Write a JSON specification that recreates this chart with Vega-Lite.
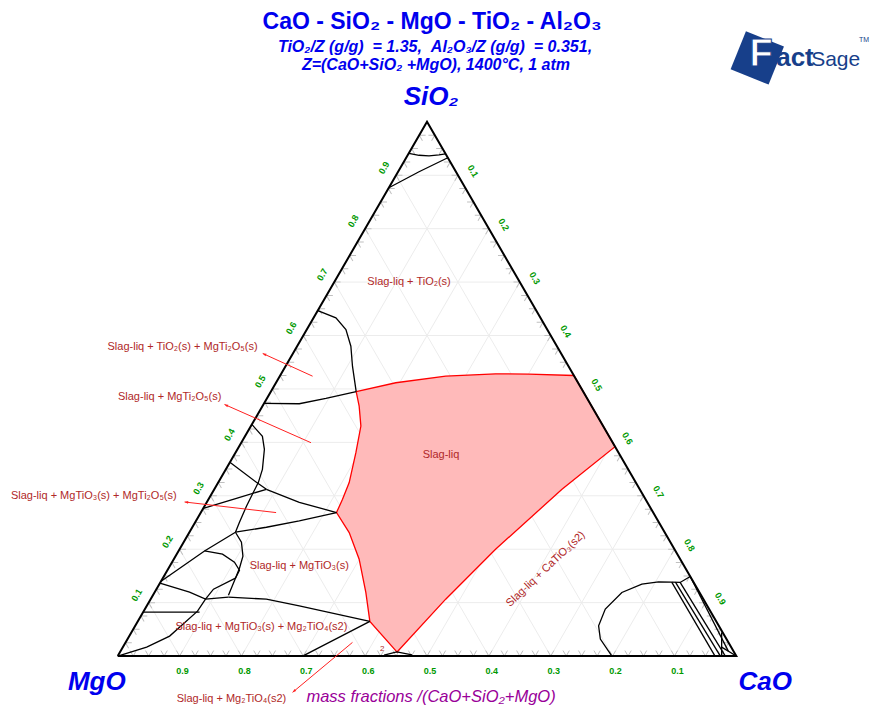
{
"$schema":"https://vega.github.io/schema/vega-lite/v6.json",
"width":870,"height":706,"padding":0,
"autosize":{"type":"fit","contains":"padding"},
"config":{"view":{"stroke":null},"font":"Liberation Sans"},
"datasets":{
"grid":[
{"x":0.05,"y":0.1,"x2":0.95,"y2":0.1},{"x":0.1,"y":0.2,"x2":0.9,"y2":0.2},{"x":0.15,"y":0.3,"x2":0.85,"y2":0.3},{"x":0.2,"y":0.4,"x2":0.8,"y2":0.4},{"x":0.25,"y":0.5,"x2":0.75,"y2":0.5},{"x":0.3,"y":0.6,"x2":0.7,"y2":0.6},{"x":0.35,"y":0.7,"x2":0.65,"y2":0.7},{"x":0.4,"y":0.8,"x2":0.6,"y2":0.8},{"x":0.45,"y":0.9,"x2":0.55,"y2":0.9},
{"x":0.1,"y":0,"x2":0.55,"y2":0.9},{"x":0.2,"y":0,"x2":0.6,"y2":0.8},{"x":0.3,"y":0,"x2":0.65,"y2":0.7},{"x":0.4,"y":0,"x2":0.7,"y2":0.6},{"x":0.5,"y":0,"x2":0.75,"y2":0.5},{"x":0.6,"y":0,"x2":0.8,"y2":0.4},{"x":0.7,"y":0,"x2":0.85,"y2":0.3},{"x":0.8,"y":0,"x2":0.9,"y2":0.2},{"x":0.9,"y":0,"x2":0.95,"y2":0.1},
{"x":0.1,"y":0,"x2":0.05,"y2":0.1},{"x":0.2,"y":0,"x2":0.1,"y2":0.2},{"x":0.3,"y":0,"x2":0.15,"y2":0.3},{"x":0.4,"y":0,"x2":0.2,"y2":0.4},{"x":0.5,"y":0,"x2":0.25,"y2":0.5},{"x":0.6,"y":0,"x2":0.3,"y2":0.6},{"x":0.7,"y":0,"x2":0.35,"y2":0.7},{"x":0.8,"y":0,"x2":0.4,"y2":0.8},{"x":0.9,"y":0,"x2":0.45,"y2":0.9}
],
"tb":[{"x":0.025,"y":0},{"x":0.05,"y":0},{"x":0.075,"y":0},{"x":0.1,"y":0},{"x":0.125,"y":0},{"x":0.15,"y":0},{"x":0.175,"y":0},{"x":0.2,"y":0},{"x":0.225,"y":0},{"x":0.25,"y":0},{"x":0.275,"y":0},{"x":0.3,"y":0},{"x":0.325,"y":0},{"x":0.35,"y":0},{"x":0.375,"y":0},{"x":0.4,"y":0},{"x":0.425,"y":0},{"x":0.45,"y":0},{"x":0.475,"y":0},{"x":0.5,"y":0},{"x":0.525,"y":0},{"x":0.55,"y":0},{"x":0.575,"y":0},{"x":0.6,"y":0},{"x":0.625,"y":0},{"x":0.65,"y":0},{"x":0.675,"y":0},{"x":0.7,"y":0},{"x":0.725,"y":0},{"x":0.75,"y":0},{"x":0.775,"y":0},{"x":0.8,"y":0},{"x":0.825,"y":0},{"x":0.85,"y":0},{"x":0.875,"y":0},{"x":0.9,"y":0},{"x":0.925,"y":0},{"x":0.95,"y":0},{"x":0.975,"y":0}],
"tl":[{"x":0.0125,"y":0.025},{"x":0.025,"y":0.05},{"x":0.0375,"y":0.075},{"x":0.05,"y":0.1},{"x":0.0625,"y":0.125},{"x":0.075,"y":0.15},{"x":0.0875,"y":0.175},{"x":0.1,"y":0.2},{"x":0.1125,"y":0.225},{"x":0.125,"y":0.25},{"x":0.1375,"y":0.275},{"x":0.15,"y":0.3},{"x":0.1625,"y":0.325},{"x":0.175,"y":0.35},{"x":0.1875,"y":0.375},{"x":0.2,"y":0.4},{"x":0.2125,"y":0.425},{"x":0.225,"y":0.45},{"x":0.2375,"y":0.475},{"x":0.25,"y":0.5},{"x":0.2625,"y":0.525},{"x":0.275,"y":0.55},{"x":0.2875,"y":0.575},{"x":0.3,"y":0.6},{"x":0.3125,"y":0.625},{"x":0.325,"y":0.65},{"x":0.3375,"y":0.675},{"x":0.35,"y":0.7},{"x":0.3625,"y":0.725},{"x":0.375,"y":0.75},{"x":0.3875,"y":0.775},{"x":0.4,"y":0.8},{"x":0.4125,"y":0.825},{"x":0.425,"y":0.85},{"x":0.4375,"y":0.875},{"x":0.45,"y":0.9},{"x":0.4625,"y":0.925},{"x":0.475,"y":0.95},{"x":0.4875,"y":0.975}],
"tr":[{"x":0.9875,"y":0.025},{"x":0.975,"y":0.05},{"x":0.9625,"y":0.075},{"x":0.95,"y":0.1},{"x":0.9375,"y":0.125},{"x":0.925,"y":0.15},{"x":0.9125,"y":0.175},{"x":0.9,"y":0.2},{"x":0.8875,"y":0.225},{"x":0.875,"y":0.25},{"x":0.8625,"y":0.275},{"x":0.85,"y":0.3},{"x":0.8375,"y":0.325},{"x":0.825,"y":0.35},{"x":0.8125,"y":0.375},{"x":0.8,"y":0.4},{"x":0.7875,"y":0.425},{"x":0.775,"y":0.45},{"x":0.7625,"y":0.475},{"x":0.75,"y":0.5},{"x":0.7375,"y":0.525},{"x":0.725,"y":0.55},{"x":0.7125,"y":0.575},{"x":0.7,"y":0.6},{"x":0.6875,"y":0.625},{"x":0.675,"y":0.65},{"x":0.6625,"y":0.675},{"x":0.65,"y":0.7},{"x":0.6375,"y":0.725},{"x":0.625,"y":0.75},{"x":0.6125,"y":0.775},{"x":0.6,"y":0.8},{"x":0.5875,"y":0.825},{"x":0.575,"y":0.85},{"x":0.5625,"y":0.875},{"x":0.55,"y":0.9},{"x":0.5375,"y":0.925},{"x":0.525,"y":0.95},{"x":0.5125,"y":0.975}],
"liq":[
{"i":0,"x":0.3855,"y":0.4950},{"i":1,"x":0.4495,"y":0.5116},{"i":2,"x":0.5302,"y":0.5239},{"i":3,"x":0.6108,"y":0.5284},{"i":4,"x":0.6645,"y":0.5277},{"i":5,"x":0.7374,"y":0.5252},{"i":6,"x":0.8040,"y":0.3920},{"i":7,"x":0.7182,"y":0.3121},{"i":8,"x":0.6108,"y":0.2000},{"i":9,"x":0.5302,"y":0.1065},{"i":10,"x":0.4516,"y":0.0075},{"i":11,"x":0.4076,"y":0.0649},{"i":12,"x":0.4011,"y":0.1191},{"i":13,"x":0.3903,"y":0.1813},{"i":14,"x":0.3742,"y":0.2312},{"i":15,"x":0.3537,"y":0.2686},{"i":16,"x":0.3634,"y":0.2935},{"i":17,"x":0.3742,"y":0.3247},{"i":18,"x":0.3850,"y":0.3807},{"i":19,"x":0.3931,"y":0.4305},{"i":20,"x":0.3903,"y":0.4679},{"i":21,"x":0.3855,"y":0.4950}
],
"bl":[
{"s":"a","i":0,"x":0.4706,"y":0.9411},{"s":"a","i":1,"x":0.4871,"y":0.9374},{"s":"a","i":2,"x":0.5032,"y":0.9364},{"s":"a","i":3,"x":0.5194,"y":0.9383},{"s":"a","i":4,"x":0.5299,"y":0.9402},
{"s":"b","i":0,"x":0.5336,"y":0.9327},{"s":"b","i":1,"x":0.4871,"y":0.9065},{"s":"b","i":2,"x":0.4383,"y":0.8766},
{"s":"c","i":0,"x":0.3234,"y":0.6467},{"s":"c","i":1,"x":0.3527,"y":0.6331},{"s":"c","i":2,"x":0.3689,"y":0.6112},{"s":"c","i":3,"x":0.3769,"y":0.5800},{"s":"c","i":4,"x":0.3795,"y":0.5426},{"s":"c","i":5,"x":0.3855,"y":0.4950},
{"s":"d","i":0,"x":0.2364,"y":0.4729},{"s":"d","i":1,"x":0.2935,"y":0.4723},{"s":"d","i":2,"x":0.3366,"y":0.4822},{"s":"d","i":3,"x":0.3855,"y":0.4950},
{"s":"L1","i":0,"x":0.1813,"y":0.3626},{"s":"L1","i":1,"x":0.2242,"y":0.3252},{"s":"L1","i":2,"x":0.2403,"y":0.3121},
{"s":"L2","i":0,"x":0.2403,"y":0.3121},{"s":"L2","i":1,"x":0.2935,"y":0.2879},{"s":"L2","i":2,"x":0.3537,"y":0.2686},
{"s":"L3","i":0,"x":0.2403,"y":0.3121},{"s":"L3","i":1,"x":0.1919,"y":0.2953},{"s":"L3","i":2,"x":0.1383,"y":0.2766},
{"s":"L4","i":0,"x":0.2168,"y":0.4336},{"s":"L4","i":1,"x":0.2339,"y":0.4112},{"s":"L4","i":2,"x":0.2371,"y":0.3869},{"s":"L4","i":3,"x":0.2339,"y":0.3495},{"s":"L4","i":4,"x":0.2274,"y":0.3252},{"s":"L4","i":5,"x":0.2177,"y":0.3028},{"s":"L4","i":6,"x":0.2081,"y":0.2804},{"s":"L4","i":7,"x":0.1968,"y":0.2505},{"s":"L4","i":8,"x":0.1903,"y":0.2318},
{"s":"L5","i":0,"x":0.1903,"y":0.2318},{"s":"L5","i":1,"x":0.2403,"y":0.2411},{"s":"L5","i":2,"x":0.2935,"y":0.2529},{"s":"L5","i":3,"x":0.3537,"y":0.2686},
{"s":"L6","i":0,"x":0.1903,"y":0.2318},{"s":"L6","i":1,"x":0.1403,"y":0.1968},{"s":"L6","i":2,"x":0.0701,"y":0.1402},
{"s":"L7","i":0,"x":0.1403,"y":0.1968},{"s":"L7","i":1,"x":0.1694,"y":0.1907},{"s":"L7","i":2,"x":0.1887,"y":0.1757},{"s":"L7","i":3,"x":0.1968,"y":0.1607},{"s":"L7","i":4,"x":0.1903,"y":0.1458},
{"s":"L8","i":0,"x":0.1903,"y":0.2318},{"s":"L8","i":1,"x":0.2000,"y":0.2131},{"s":"L8","i":2,"x":0.2024,"y":0.1869},{"s":"L8","i":3,"x":0.1968,"y":0.1645},{"s":"L8","i":4,"x":0.1903,"y":0.1458},{"s":"L8","i":5,"x":0.1790,"y":0.1140},
{"s":"L9","i":0,"x":0.0682,"y":0.1364},{"s":"L9","i":1,"x":0.1161,"y":0.1196},{"s":"L9","i":2,"x":0.1419,"y":0.1065},{"s":"L9","i":3,"x":0.1790,"y":0.1103},
{"s":"L10","i":0,"x":0.1790,"y":0.1103},{"s":"L10","i":1,"x":0.2403,"y":0.1065},{"s":"L10","i":2,"x":0.2935,"y":0.0940},{"s":"L10","i":3,"x":0.4076,"y":0.0649},
{"s":"L11","i":0,"x":0.0411,"y":0.0822},{"s":"L11","i":1,"x":0.1323,"y":0.0822},
{"s":"L12","i":0,"x":0.0,"y":0.0},{"s":"L12","i":1,"x":0.0468,"y":0.0168},{"s":"L12","i":2,"x":0.0839,"y":0.0374},{"s":"L12","i":3,"x":0.1290,"y":0.0841},{"s":"L12","i":4,"x":0.1419,"y":0.1065},{"s":"L12","i":5,"x":0.1548,"y":0.1252},{"s":"L12","i":6,"x":0.1903,"y":0.1458},
{"s":"L13","i":0,"x":0.4076,"y":0.0649},{"s":"L13","i":1,"x":0.2989,"y":0.0},
{"s":"L14","i":0,"x":0.4306,"y":0.0019},{"s":"L14","i":1,"x":0.4511,"y":0.0080},{"s":"L14","i":2,"x":0.4758,"y":0.0024},
{"s":"Rc","i":0,"x":0.7989,"y":0.0},{"s":"Rc","i":1,"x":0.7802,"y":0.0318},{"s":"Rc","i":2,"x":0.7774,"y":0.0566},{"s":"Rc","i":3,"x":0.7882,"y":0.0879},{"s":"Rc","i":4,"x":0.8150,"y":0.1191},{"s":"Rc","i":5,"x":0.8473,"y":0.1346},{"s":"Rc","i":6,"x":0.8742,"y":0.1389},{"s":"Rc","i":7,"x":0.8956,"y":0.1383},{"s":"Rc","i":8,"x":0.9092,"y":0.1378},{"s":"Rc","i":9,"x":0.9255,"y":0.1490},
{"s":"R1","i":0,"x":0.8956,"y":0.1383},{"s":"R1","i":1,"x":0.9656,"y":0.0},
{"s":"R2","i":0,"x":0.9016,"y":0.1383},{"s":"R2","i":1,"x":0.9742,"y":0.0},
{"s":"R3","i":0,"x":0.9092,"y":0.1378},{"s":"R3","i":1,"x":0.9823,"y":0.0},
{"s":"R4","i":0,"x":0.9255,"y":0.1490},{"s":"R4","i":1,"x":0.9871,"y":0.0093},
{"s":"R5","i":0,"x":0.9763,"y":0.0443},{"s":"R5","i":1,"x":0.9763,"y":0.0},
{"s":"R6","i":0,"x":0.9763,"y":0.0168},{"s":"R6","i":1,"x":1.0,"y":0.0}
],
"tri":[{"i":0,"x":0,"y":0},{"i":1,"x":1,"y":0},{"i":2,"x":0.5,"y":1},{"i":3,"x":0,"y":0}],
"arr":[
{"s":"A1","i":0,"x":0.3150,"y":0.5239},{"s":"A1","i":1,"x":0.2344,"y":0.5664},
{"s":"A2","i":0,"x":0.3124,"y":0.3994},{"s":"A2","i":1,"x":0.1726,"y":0.4710},
{"s":"A3","i":0,"x":0.2560,"y":0.2686},{"s":"A3","i":1,"x":0.1081,"y":0.2884},
{"s":"A4","i":0,"x":0.3795,"y":0.0256},{"s":"A4","i":1,"x":0.2827,"y":-0.0679}
],
"heads":[{"s":"A1","x":0.2344,"y":0.5664},{"s":"A2","x":0.1726,"y":0.4710},{"s":"A3","x":0.1081,"y":0.2884},{"s":"A4","x":0.2827,"y":-0.0679}],
"regions":[
{"t":"Slag-liq + TiO₂(s)","x":0.4710,"y":0.7009},
{"t":"Slag-liq","x":0.5226,"y":0.3757},
{"t":"Slag-liq + TiO₂(s) + MgTi₂O₅(s)","x":0.1048,"y":0.5794},
{"t":"Slag-liq + MgTi₂O₅(s)","x":0.0839,"y":0.4841},
{"t":"Slag-liq + MgTiO₃(s) + MgTi₂O₅(s)","x":-0.0387,"y":0.2991},
{"t":"Slag-liq + MgTiO₃(s)","x":0.2935,"y":0.1682},
{"t":"Slag-liq + MgTiO₃(s) + Mg₂TiO₄(s2)","x":0.2323,"y":0.0542},
{"t":"Slag-liq + Mg₂TiO₄(s2)","x":0.1839,"y":-0.0804}
],
"rot":[{"t":"Slag-liq + CaTiO₃(s2)","x":0.6919,"y":0.1626}],
"two":[{"t":"2","x":0.4274,"y":0.0131}],
"lb":[{"t":"0.9","x":0.1048,"y":-0.028},{"t":"0.8","x":0.2048,"y":-0.028},{"t":"0.7","x":0.3048,"y":-0.028},{"t":"0.6","x":0.4048,"y":-0.028},{"t":"0.5","x":0.5048,"y":-0.028},{"t":"0.4","x":0.6048,"y":-0.028},{"t":"0.3","x":0.7048,"y":-0.028},{"t":"0.2","x":0.8048,"y":-0.028},{"t":"0.1","x":0.9048,"y":-0.028}],
"ll":[{"t":"0.9","x":0.4306,"y":0.914},{"t":"0.8","x":0.3806,"y":0.814},{"t":"0.7","x":0.3306,"y":0.714},{"t":"0.6","x":0.2806,"y":0.614},{"t":"0.5","x":0.2306,"y":0.514},{"t":"0.4","x":0.1806,"y":0.414},{"t":"0.3","x":0.1306,"y":0.314},{"t":"0.2","x":0.0806,"y":0.214},{"t":"0.1","x":0.0306,"y":0.114}],
"lr":[{"t":"0.1","x":0.5742,"y":0.9075},{"t":"0.2","x":0.6242,"y":0.8075},{"t":"0.3","x":0.6742,"y":0.7075},{"t":"0.4","x":0.7242,"y":0.6075},{"t":"0.5","x":0.7742,"y":0.5075},{"t":"0.6","x":0.8242,"y":0.4075},{"t":"0.7","x":0.8742,"y":0.3075},{"t":"0.8","x":0.9242,"y":0.2075},{"t":"0.9","x":0.9742,"y":0.1075}],
"title":[{"t":"CaO - SiO₂ - MgO - TiO₂ - Al₂O₃","x":0.5081,"y":1.1869}],
"sub":[{"t":"TiO₂/Z (g/g) \u00a0= 1.35, \u00a0Al₂O₃/Z (g/g) \u00a0= 0.351,","x":0.5129,"y":1.1402},{"t":"Z=(CaO+SiO₂ +MgO), 1400°C, 1 atm","x":0.5145,"y":1.1065}],
"corners":[{"t":"SiO₂","x":0.5065,"y":1.0467},{"t":"MgO","x":-0.0339,"y":-0.0486},{"t":"CaO","x":1.0468,"y":-0.0486}],
"mass":[{"t":"mass fractions /(CaO+SiO₂+MgO)","x":0.5065,"y":-0.0766}],
"logo":[{"x":1.0339,"y":1.1196}],
"logoF":[{"t":"F","x":1.0403,"y":1.1047}],
"logoAct":[{"t":"act","x":1.0645,"y":1.1047}],
"logoSage":[{"t":"Sage","x":1.1210,"y":1.1047}],
"logoTM":[{"t":"TM","x":1.2065,"y":1.1533}]
},
"encoding":{
"x":{"field":"x","type":"quantitative","scale":{"domain":[-0.19032,1.2129],"nice":false,"zero":false},"axis":null},
"y":{"field":"y","type":"quantitative","scale":{"domain":[-0.09159,1.22804],"nice":false,"zero":false},"axis":null}
},
"layer":[
{"data":{"name":"grid"},"mark":{"type":"rule","stroke":"#ececec","strokeWidth":1},"encoding":{"x2":{"field":"x2"},"y2":{"field":"y2"}}},
{"data":{"name":"tb"},"mark":{"type":"point","shape":"M-0.5774,-1L0,0L0.5774,-1","filled":false,"size":121,"stroke":"#c0c0c0","strokeWidth":1,"opacity":1}},
{"data":{"name":"tl"},"mark":{"type":"point","shape":"M-0.5774,-1L0,0L0.5774,-1","filled":false,"size":121,"stroke":"#c0c0c0","strokeWidth":1,"opacity":1,"angle":120}},
{"data":{"name":"tr"},"mark":{"type":"point","shape":"M-0.5774,-1L0,0L0.5774,-1","filled":false,"size":121,"stroke":"#c0c0c0","strokeWidth":1,"opacity":1,"angle":240}},
{"data":{"name":"liq"},"mark":{"type":"line","fill":"#ffbaba","stroke":"#ff0000","strokeWidth":1.3},"encoding":{"order":{"field":"i","type":"quantitative"}}},
{"data":{"name":"bl"},"mark":{"type":"line","stroke":"#000000","strokeWidth":1.3},"encoding":{"detail":{"field":"s"},"order":{"field":"i","type":"quantitative"}}},
{"data":{"name":"tri"},"mark":{"type":"line","stroke":"#000000","strokeWidth":2},"encoding":{"order":{"field":"i","type":"quantitative"}}},
{"data":{"name":"arr"},"mark":{"type":"line","stroke":"#ff2020","strokeWidth":1},"encoding":{"detail":{"field":"s"},"order":{"field":"i","type":"quantitative"}}},
{"data":{"name":"heads"},"transform":[{"filter":"datum.s == 'A1'"}],"mark":{"type":"point","shape":"M0,0L-0.45,1.2L0.45,1.2Z","filled":true,"fill":"#ff2020","size":36,"opacity":1,"angle":294.7}},
{"data":{"name":"heads"},"transform":[{"filter":"datum.s == 'A2'"}],"mark":{"type":"point","shape":"M0,0L-0.45,1.2L0.45,1.2Z","filled":true,"fill":"#ff2020","size":36,"opacity":1,"angle":293.8}},
{"data":{"name":"heads"},"transform":[{"filter":"datum.s == 'A3'"}],"mark":{"type":"point","shape":"M0,0L-0.45,1.2L0.45,1.2Z","filled":true,"fill":"#ff2020","size":36,"opacity":1,"angle":276.6}},
{"data":{"name":"heads"},"transform":[{"filter":"datum.s == 'A4'"}],"mark":{"type":"point","shape":"M0,0L-0.45,1.2L0.45,1.2Z","filled":true,"fill":"#ff2020","size":36,"opacity":1,"angle":230.2}},
{"data":{"name":"regions"},"mark":{"type":"text","fontSize":11,"fill":"#b02828","align":"center","baseline":"middle"},"encoding":{"text":{"field":"t"}}},
{"data":{"name":"rot"},"mark":{"type":"text","fontSize":11,"fill":"#b02828","align":"center","baseline":"middle","angle":316.5},"encoding":{"text":{"field":"t"}}},
{"data":{"name":"two"},"mark":{"type":"text","fontSize":8,"fill":"#b02828","align":"center","baseline":"middle"},"encoding":{"text":{"field":"t"}}},
{"data":{"name":"lb"},"mark":{"type":"text","fontSize":9,"fontWeight":"bold","fill":"#009900","align":"center","baseline":"middle"},"encoding":{"text":{"field":"t"}}},
{"data":{"name":"ll"},"mark":{"type":"text","fontSize":9,"fontWeight":"bold","fill":"#009900","align":"center","baseline":"middle","angle":300},"encoding":{"text":{"field":"t"}}},
{"data":{"name":"lr"},"mark":{"type":"text","fontSize":9,"fontWeight":"bold","fill":"#009900","align":"center","baseline":"middle","angle":60},"encoding":{"text":{"field":"t"}}},
{"data":{"name":"title"},"mark":{"type":"text","fontSize":23,"fontWeight":"bold","fill":"#0000ee","align":"center","baseline":"middle"},"encoding":{"text":{"field":"t"}}},
{"data":{"name":"sub"},"mark":{"type":"text","fontSize":16,"fontWeight":"bold","fontStyle":"italic","fill":"#0000ee","align":"center","baseline":"middle"},"encoding":{"text":{"field":"t"}}},
{"data":{"name":"corners"},"mark":{"type":"text","fontSize":26,"fontWeight":"bold","fontStyle":"italic","fill":"#0000ee","align":"center","baseline":"middle"},"encoding":{"text":{"field":"t"}}},
{"data":{"name":"mass"},"mark":{"type":"text","fontSize":16.5,"fontStyle":"italic","fill":"#990099","align":"center","baseline":"middle"},"encoding":{"text":{"field":"t"}}},
{"data":{"name":"logo"},"mark":{"type":"point","shape":"square","size":1680,"filled":true,"fill":"#173f8a","opacity":1,"angle":22}},
{"data":{"name":"logoF"},"mark":{"type":"text","fontSize":38,"fontWeight":"bold","fill":"#ffffff","stroke":"#173f8a","strokeWidth":1,"align":"center","baseline":"alphabetic"},"encoding":{"text":{"field":"t"}}},
{"data":{"name":"logoAct"},"mark":{"type":"text","fontSize":26,"fontWeight":"bold","fill":"#173f8a","align":"left","baseline":"alphabetic"},"encoding":{"text":{"field":"t"}}},
{"data":{"name":"logoSage"},"mark":{"type":"text","fontSize":21,"fill":"#173f8a","align":"left","baseline":"alphabetic"},"encoding":{"text":{"field":"t"}}},
{"data":{"name":"logoTM"},"mark":{"type":"text","fontSize":7,"fill":"#173f8a","align":"center","baseline":"middle"},"encoding":{"text":{"field":"t"}}}
]
}
